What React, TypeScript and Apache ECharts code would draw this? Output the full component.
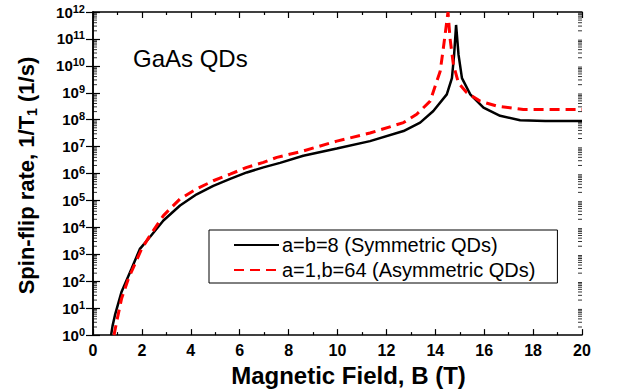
import React, { useEffect, useRef } from "react";
import * as echarts from "echarts";

const symB = [0.74, 0.8, 0.9, 1.17, 1.58, 1.92, 2.33, 2.88, 3.56, 4.24, 4.92, 5.61, 6.29, 6.97, 7.65, 8.6, 9.97, 11.33, 12.7, 13.38, 13.92, 14.47, 14.68, 14.77, 14.85, 14.95, 15.09, 15.43, 15.97, 16.65, 17.47, 18.5, 20];
const symRate = [1, 2.2, 5.6, 41, 300, 1.6e3, 4.4e3, 1.8e4, 6.5e4, 1.7e5, 3.5e5, 6.3e5, 1.1e6, 1.7e6, 2.5e6, 4.6e6, 8.5e6, 1.6e7, 3.8e7, 7.8e7, 2.1e8, 8.7e8, 3.5e9, 2.6e10, 3.3e11, 2.6e10, 3.5e9, 8.7e8, 2.8e8, 1.4e8, 9.5e7, 9e7, 8.9e7];

const asymB = [0.86, 0.97, 1.17, 1.45, 1.99, 2.33, 2.88, 3.56, 4.24, 4.92, 5.61, 6.29, 6.97, 7.52, 8.6, 9.97, 11.33, 12.7, 13.24, 13.79, 14.2, 14.33, 14.52, 14.6, 14.74, 14.95, 15.29, 15.83, 16.52, 17.6, 20];
const asymRate = [1, 3.2, 23, 126, 1.6e3, 5e3, 2.75e4, 1.15e5, 2.7e5, 5.4e5, 9.5e5, 1.7e6, 2.6e6, 4e6, 6.9e6, 1.6e7, 3.2e7, 7.8e7, 1.6e8, 4.9e8, 6.3e9, 4.6e10, 1e12, 1.1e11, 1.1e10, 2.3e9, 1e9, 4.9e8, 3.2e8, 2.4e8, 2.4e8];

const symName = "a=b=8 (Symmetric QDs)";
const asymName = "a=1,b=64 (Asymmetric QDs)";
const decades = [0, 1, 2, 3, 4, 5, 6, 7, 8, 9, 10, 11];
const minorMultipliers = [2, 3, 4, 5, 6, 7, 8, 9];

const FONT = "'Liberation Sans', Arial, sans-serif";

export default function App() {
  const ref = useRef<HTMLDivElement>(null);
  useEffect(() => {
    if (!ref.current) return;
    const chart = echarts.init(ref.current, undefined, { renderer: "svg" });
    const minorLeft: number[][] = [];
    const minorRight: number[][] = [];
    decades.forEach((d) =>
      minorMultipliers.forEach((m) => {
        minorLeft.push([0, m * Math.pow(10, d)]);
        minorRight.push([20, m * Math.pow(10, d)]);
      })
    );

    const xCommon = {
      type: "value",
      min: 0,
      max: 20,
      interval: 2,
      axisLine: { show: true, onZero: false, lineStyle: { color: "#000", width: 1.5 } },
      axisTick: { show: true, inside: true, length: 6, lineStyle: { color: "#000", width: 1.2 } },
      minorTick: { show: true, splitNumber: 2, length: 3, lineStyle: { color: "#000", width: 1.2 } },
      splitLine: { show: false },
    };
    const yCommon = {
      type: "log",
      logBase: 10,
      min: 1,
      max: 1e12,
      interval: 1,
      axisLine: { show: true, lineStyle: { color: "#000", width: 1.5 } },
      axisTick: { show: true, inside: true, length: 7, lineStyle: { color: "#000", width: 1.2 } },
      splitLine: { show: false },
    };

    const tickSeries = (data: number[][], offset: number) => ({
      type: "scatter",
      silent: true,
      data,
      symbol: "rect",
      symbolSize: [4, 1],
      symbolOffset: [offset, 0],
      itemStyle: { color: "#000" },
      clip: false,
      z: 2,
    });

    chart.setOption({
      animation: false,
      grid: { left: 93, right: 38, top: 12, bottom: 55, containLabel: false },
      xAxis: [
        {
          ...xCommon,
          position: "bottom",
          name: "Magnetic Field, B (T)",
          nameLocation: "middle",
          nameGap: 23,
          nameTextStyle: { fontFamily: FONT, fontWeight: "bold", fontSize: 24, color: "#000", padding: [0, 0, 0, 22] },
          axisLabel: { fontFamily: FONT, fontWeight: "bold", fontSize: 16, color: "#000", margin: 7 },
        },
        { ...xCommon, position: "top", axisLabel: { show: false } },
      ],
      yAxis: [
        {
          ...yCommon,
          position: "left",
          name: "{a|Spin-flip rate, 1/T}{s|1}{a| (1/s)}",
          nameLocation: "middle",
          nameGap: 54,
          nameRotate: 90,
          nameTextStyle: {
            color: "#000",
            padding: [0, 4, 0, 0],
            rich: {
              a: { fontFamily: FONT, fontWeight: "bold", fontSize: 22, color: "#000" },
              s: { fontFamily: FONT, fontWeight: "bold", fontSize: 14, color: "#000", padding: [12, 0, 0, 0] },
            },
          },
          axisLabel: {
            margin: 8,
            formatter: (v: number) => `{b|10}{e|${Math.round(Math.log10(v))}}`,
            rich: {
              b: { fontFamily: FONT, fontWeight: "bold", fontSize: 15, color: "#000" },
              e: { fontFamily: FONT, fontWeight: "bold", fontSize: 11, color: "#000", padding: [0, 0, 7, 0] },
            },
          },
        },
        { ...yCommon, position: "right", axisLabel: { show: false } },
      ],
      legend: {
        data: [symName, asymName],
        orient: "vertical",
        left: 209,
        top: 230,
        padding: [5, 22, 3, 24],
        itemGap: 5,
        itemWidth: 45,
        itemHeight: 14,
        borderColor: "#000",
        borderWidth: 1,
        itemStyle: { opacity: 0 },
        textStyle: { fontFamily: FONT, fontSize: 20, color: "#000", padding: [0, 0, 0, -2] },
      },
      graphic: [
        {
          type: "text",
          left: 133,
          top: 46,
          style: { text: "GaAs QDs", fontFamily: FONT, fontSize: 24, fill: "#000" },
        },
      ],
      series: [
        {
          name: symName,
          type: "line",
          data: symB.map((b, i) => [b, symRate[i]]),
          showSymbol: false,
          symbol: "none",
          lineStyle: { color: "#000", width: 2.5 },
          itemStyle: { color: "#000" },
          z: 3,
        },
        {
          name: asymName,
          type: "line",
          data: asymB.map((b, i) => [b, asymRate[i]]),
          showSymbol: false,
          symbol: "none",
          lineStyle: { color: "#ff0000", width: 3, type: [10, 6] },
          itemStyle: { color: "#ff0000" },
          z: 4,
        },
        tickSeries(minorLeft, 2),
        tickSeries(minorRight, -2),
      ],
    });
    return () => chart.dispose();
  }, []);
  return <div ref={ref} style={{ position: "absolute", left: 0, top: 0, width: 620, height: 392 }} />;
}
